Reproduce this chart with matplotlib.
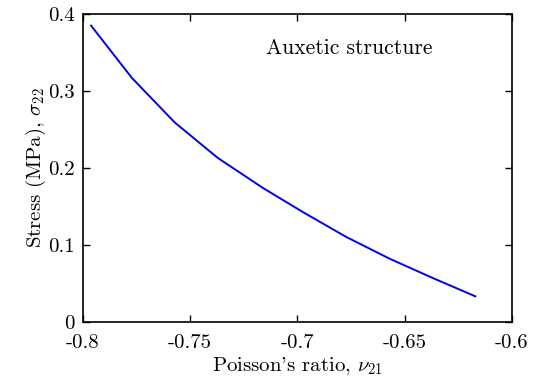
import matplotlib
matplotlib.use("Agg")
import matplotlib.pyplot as plt

# Poisson's ratio vs stress
nu21 = [-0.796, -0.777, -0.757, -0.737, -0.716, -0.697, -0.677, -0.657, -0.637, -0.617]
sigma22 = [0.385, 0.317, 0.259, 0.213, 0.174, 0.142, 0.110, 0.082, 0.057, 0.033]

xticks = [-0.8, -0.75, -0.7, -0.65, -0.6]
xticklabels = ["-0.8", "-0.75", "-0.7", "-0.65", "-0.6"]
yticks = [0, 0.1, 0.2, 0.3, 0.4]
yticklabels = ["0", "0.1", "0.2", "0.3", "0.4"]

plt.rcParams["font.family"] = "serif"
plt.rcParams["font.serif"] = ["cmr10"]
plt.rcParams["mathtext.fontset"] = "cm"
plt.rcParams["axes.unicode_minus"] = False
plt.rcParams["axes.formatter.use_mathtext"] = True

fig = plt.figure(figsize=(5.34, 3.85), dpi=100)
ax = fig.add_axes([0.1545, 0.1644, 0.804, 0.799])

ax.plot(nu21, sigma22, color="#0000ee", linewidth=1.4)

ax.set_xlim(-0.8, -0.6)
ax.set_ylim(0, 0.4)
ax.set_xticks(xticks)
ax.set_xticklabels(xticklabels)
ax.set_yticks(yticks)
ax.set_yticklabels(yticklabels)
ax.tick_params(direction="in", top=True, right=True, length=5, width=1, labelsize=15)
ax.tick_params(axis="x", pad=9)
ax.tick_params(axis="y", pad=5.5)
for s in ax.spines.values():
    s.set_linewidth(1.2)

ax.set_xlabel(r"Poisson's ratio, $\nu_{21}$", fontsize=15, labelpad=2)
ax.set_ylabel(r"Stress (MPa), $\sigma_{22}$", fontsize=15, labelpad=0)
ax.text(-0.7147, 0.348, "Auxetic structure", fontsize=15.5, ha="left")

fig.savefig("out.png", dpi=100)
